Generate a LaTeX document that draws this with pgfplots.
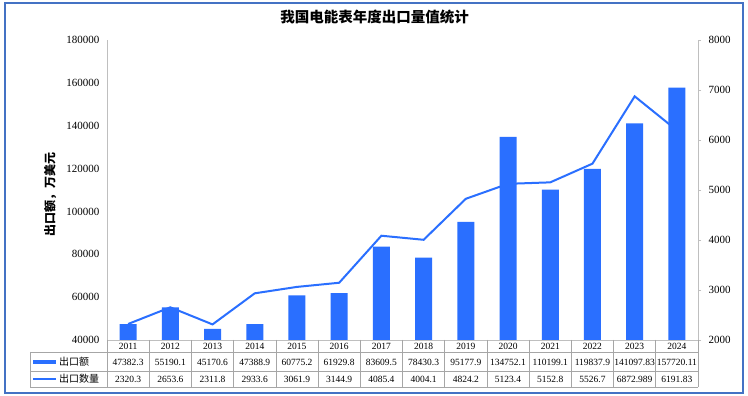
\documentclass[border=0pt]{standalone}
\usepackage{pgfplots}
\pgfplotsset{compat=1.18}
\usepackage{pgfplotstable}
\usepackage{fontspec}
\setmainfont{Liberation Serif}
\newfontfamily\cjk{Noto Sans CJK SC}
\definecolor{barblue}{HTML}{2A6FFF}
\definecolor{frameblue}{HTML}{4472C4}
\definecolor{axgray}{HTML}{BFBFBF}
\definecolor{tabgray}{HTML}{A6A6A6}
\pgfplotstableread{
idx year amt qty
0 2011 47382.3 2320.3
1 2012 55190.1 2653.6
2 2013 45170.6 2311.8
3 2014 47388.9 2933.6
4 2015 60775.2 3061.9
5 2016 61929.8 3144.9
6 2017 83609.5 4085.4
7 2018 78430.3 4004.1
8 2019 95177.9 4824.2
9 2020 134752.1 5123.4
10 2021 110199.1 5152.8
11 2022 119837.9 5526.7
12 2023 141097.83 6872.989
13 2024 157720.11 6191.83
}\data
\begin{document}
\begin{tikzpicture}[x=1pt,y=1pt]
\useasboundingbox (0,0) rectangle (748,396);
\fill[white] (0,0) rectangle (748,396);
\draw[frameblue, line width=1.5pt] (5,3) rectangle (743,393);
\begin{axis}[
  at={(107pt,56pt)}, anchor=south west,
  scale only axis, width=591pt, height=300pt,
  xmin=-0.5, xmax=13.5, ymin=40000, ymax=180000,
  ytick={40000,60000,80000,100000,120000,140000,160000,180000},
  yticklabels={40000,60000,80000,100000,120000,140000,160000,180000},
  xtick=\empty,
  axis y line*=left, axis x line*=bottom,
  axis line style={axgray, line width=0.8pt},
  major tick length=0pt,
  ybar, bar width=17pt,
  scaled y ticks=false,
  yticklabel style={font=\fontsize{11}{13}\selectfont, xshift=-4pt},
]
\addplot[fill=barblue, draw=none] table[x=idx,y=amt]{\data};
\end{axis}
\begin{axis}[
  at={(107pt,56pt)}, anchor=south west,
  scale only axis, width=591pt, height=300pt,
  xmin=-0.5, xmax=13.5, ymin=2000, ymax=8000,
  ytick={2000,3000,4000,5000,6000,7000,8000},
  yticklabels={2000,3000,4000,5000,6000,7000,8000},
  axis y line*=right, axis x line=none,
  axis line style={axgray, line width=0.8pt},
  major tick length=3pt, tick align=outside,
  tick style={axgray},
  scaled y ticks=false,
  yticklabel style={font=\fontsize{11}{13}\selectfont, xshift=4pt},
]
\addplot[barblue, line width=2pt, mark=none] table[x=idx,y=qty]{\data};
\end{axis}
% title and y label
\node[font=\cjk\bfseries\fontsize{14.5}{16}\selectfont] at (374.5,379) {我国电能表年度出口量值统计};
\node[rotate=90, font=\cjk\bfseries\fontsize{12}{14}\selectfont] at (50,201) {出口额，万美元};
% data table
\begin{scope}[tabgray, line width=0.6pt]
\draw (30,44) -- (698,44);
\draw (30,24.5) -- (698,24.5);
\draw (30,9) -- (698,9);
\draw (30,44) -- (30,9);
\foreach \k in {0,...,14} {
  \pgfmathsetmacro\lx{107+42.2143*\k}
  \draw (\lx,56) -- (\lx,9);
}
\end{scope}
\foreach \i in {0,...,13} {
  \pgfmathsetmacro\cx{107+42.2143*(\i+0.5)}
  \pgfplotstablegetelem{\i}{year}\of\data
  \node[font=\fontsize{9.5}{11}\selectfont, inner sep=0pt] at (\cx,50) {\pgfplotsretval};
  \pgfplotstablegetelem{\i}{amt}\of\data
  \node[font=\fontsize{9.5}{11}\selectfont, inner sep=0pt] at (\cx,34) {\pgfplotsretval};
  \pgfplotstablegetelem{\i}{qty}\of\data
  \node[font=\fontsize{9.5}{11}\selectfont, inner sep=0pt] at (\cx,17) {\pgfplotsretval};
}
\draw[barblue, line width=4pt] (33,34) -- (56,34);
\node[anchor=west, inner sep=0pt, font=\cjk\fontsize{10}{12}\selectfont] at (59,34) {出口额};
\draw[barblue, line width=1.5pt] (33,17) -- (56,17);
\node[anchor=west, inner sep=0pt, font=\cjk\fontsize{10}{12}\selectfont] at (59,17) {出口数量};
\end{tikzpicture}
\end{document}
